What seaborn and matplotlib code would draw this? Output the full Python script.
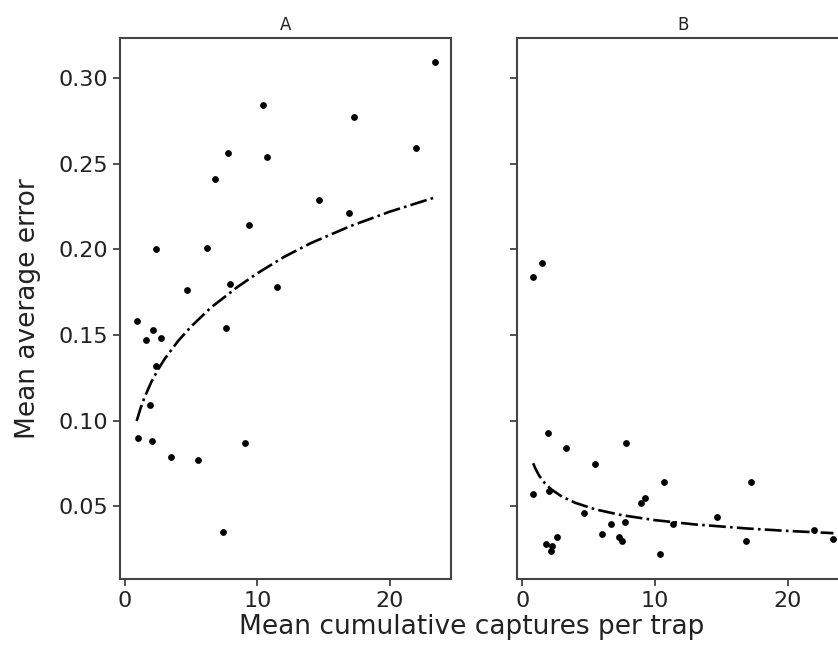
import matplotlib
matplotlib.use("Agg")
import matplotlib.pyplot as plt
import seaborn as sns

# panel A: observed points
a_x = [23.36, 10.42, 17.26, 7.79, 10.70, 21.94, 6.82, 14.68, 16.87, 9.35,
       2.39, 6.17, 4.73, 7.93, 11.47, 0.90, 2.14, 1.62, 2.76, 7.61,
       2.34, 1.94, 0.97, 2.09, 3.48, 5.55, 9.08, 7.41]
a_y = [0.309, 0.284, 0.277, 0.256, 0.254, 0.259, 0.241, 0.229, 0.221, 0.214,
       0.200, 0.201, 0.176, 0.180, 0.178, 0.158, 0.153, 0.147, 0.148, 0.154,
       0.132, 0.109, 0.090, 0.088, 0.079, 0.077, 0.087, 0.035]

# panel A: fitted trend
a_fit_x = [0.9, 1.2, 1.5, 2, 2.5, 3, 4, 5, 6.5, 8.5, 10, 12, 14, 17, 20, 23.36]
a_fit_y = [0.0998, 0.1074, 0.1137, 0.1225, 0.1297, 0.1359, 0.1463, 0.1549,
           0.1660, 0.1780, 0.1860, 0.1955, 0.2035, 0.2135, 0.2220, 0.2302]

# panel B: observed points
b_x = [1.50, 0.78, 1.98, 3.34, 7.84, 5.47, 0.83, 2.03, 10.67, 17.26,
       9.24, 8.99, 4.64, 6.73, 7.76, 6.05, 7.31, 7.51, 2.64, 1.78,
       2.26, 2.16, 10.37, 11.38, 14.72, 16.90, 21.98, 23.46]
b_y = [0.192, 0.184, 0.093, 0.084, 0.087, 0.075, 0.057, 0.059, 0.064, 0.064,
       0.055, 0.052, 0.046, 0.040, 0.041, 0.034, 0.032, 0.030, 0.032, 0.028,
       0.027, 0.024, 0.022, 0.040, 0.044, 0.030, 0.036, 0.031]

# panel B: fitted trend
b_fit_x = [0.83, 1.0, 1.3, 1.7, 2.2, 3, 4, 5.5, 7.5, 10, 13, 17, 20, 23.46]
b_fit_y = [0.0752, 0.0720, 0.0677, 0.0636, 0.0599, 0.0557, 0.0521, 0.0483,
           0.0449, 0.0420, 0.0395, 0.0371, 0.0357, 0.0344]

sns.set_style("ticks")
plt.rcParams["font.family"] = ["DejaVu Sans"]

fig = plt.figure(figsize=(8.38, 6.64), dpi=100)
ax_a = fig.add_axes([0.1432, 0.128, 0.395, 0.815])
ax_b = fig.add_axes([0.6175, 0.128, 0.395, 0.815], sharey=ax_a, sharex=ax_a)

panels = [(ax_a, a_x, a_y, a_fit_x, a_fit_y, "A"),
          (ax_b, b_x, b_y, b_fit_x, b_fit_y, "B")]

for ax, x, y, fx, fy, name in panels:
    sns.scatterplot(x=x, y=y, ax=ax, color="black", s=24, linewidth=0)
    sns.lineplot(x=fx, y=fy, ax=ax, color="black", linestyle="-.", linewidth=1.9)
    ax.set_title(name, fontsize=12, color="#222222", pad=6)
    ax.tick_params(labelsize=16, colors="#333333", labelcolor="#222222",
                   length=5, width=1.2)
    for sp in ax.spines.values():
        sp.set_color("#444444")
        sp.set_linewidth(1.5)
    ax.set_xlabel("")
    ax.set_ylabel("")

ax_a.set_xticks([0, 10, 20])
ax_a.set_yticks([0.05, 0.10, 0.15, 0.20, 0.25, 0.30])
ax_a.set_yticklabels(["0.05", "0.10", "0.15", "0.20", "0.25", "0.30"])
ax_b.tick_params(labelleft=False)

fig.text(0.563, 0.056, "Mean cumulative captures per trap", ha="center",
         va="center", fontsize=19, color="#222222")
fig.text(0.033, 0.535, "Mean average error", ha="center", va="center",
         rotation=90, fontsize=19, color="#222222")

fig.savefig("out.png", dpi=100)
